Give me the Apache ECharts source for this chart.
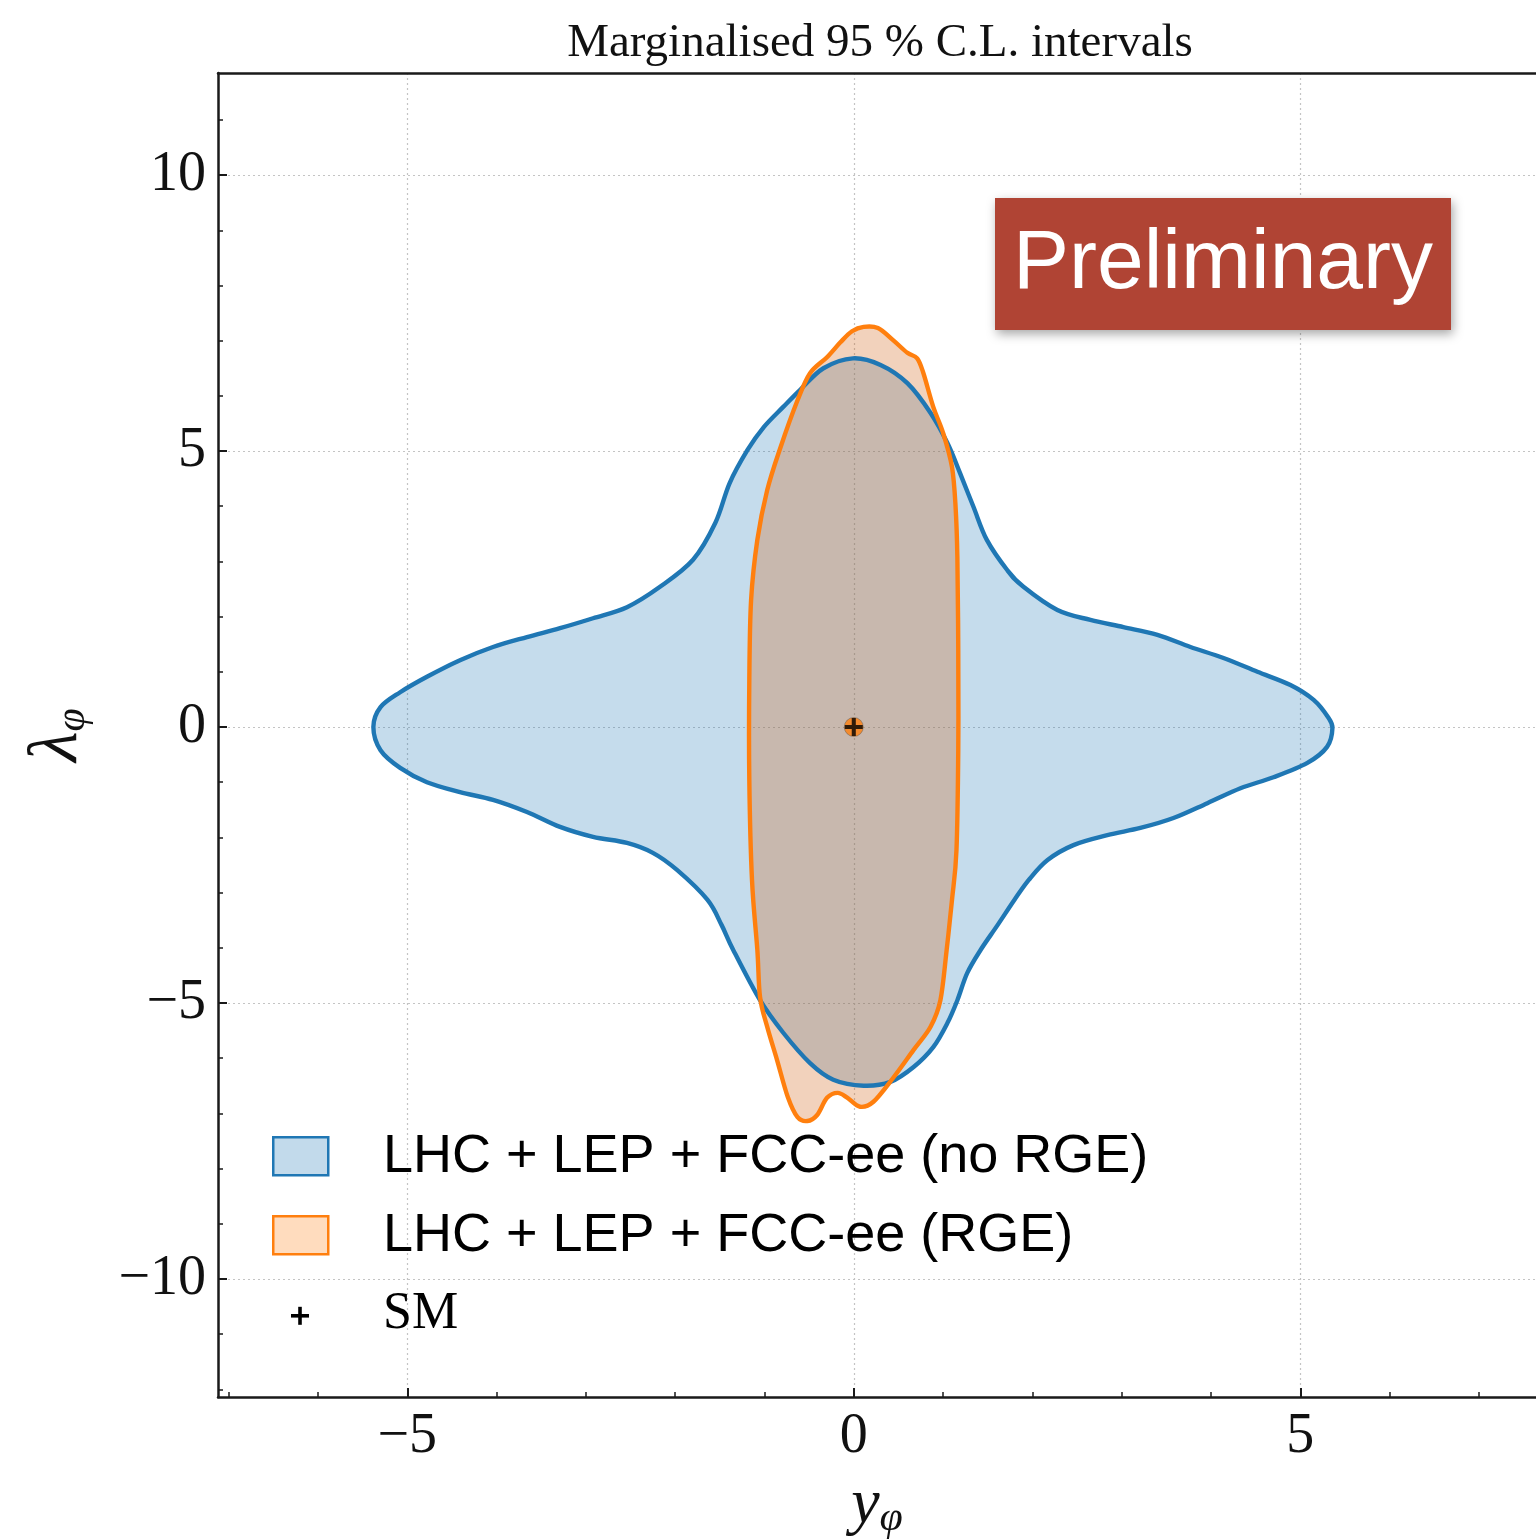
<!DOCTYPE html>
<html><head><meta charset="utf-8">
<script src="https://cdn.jsdelivr.net/npm/echarts@6/dist/echarts.min.js"></script>
<style>html,body{margin:0;padding:0;background:#fff}#c{width:1536px;height:1540px}</style>
</head><body><div id="c"></div>
<script>
// ---- data ----
const titleText = 'Marginalised 95 % C.L. intervals';
const seriesNames = ['LHC + LEP + FCC-ee (no RGE)', 'LHC + LEP + FCC-ee (RGE)', 'SM'];

// 95% contour, no RGE (y_phi, lambda_phi)
const noRgeX = [-5.38,-5.30,-5.08,-4.78,-4.41,-4.04,-3.66,-3.29,-2.92,-2.54,-2.17,-1.80,-1.55,-1.39,-1.19,-1.01,-0.79,-0.60,-0.34,-0.01,
  0.30,0.60,0.86,1.05,1.19,1.34,1.49,1.72,1.90,2.28,2.65,3.02,3.40,3.77,4.14,4.52,4.89,5.15,5.31,5.36,
  5.30,5.08,4.70,4.33,3.96,3.58,3.21,2.84,2.46,2.17,1.96,1.80,1.61,1.42,1.27,1.16,1.05,0.89,0.67,0.41,
  0.11,-0.23,-0.49,-0.79,-1.05,-1.35,-1.48,-1.64,-1.98,-2.25,-2.54,-2.92,-3.29,-3.66,-4.04,-4.41,-4.78,-5.08,-5.30];
const noRgeY = [0.00,0.36,0.63,0.91,1.21,1.45,1.63,1.79,1.97,2.17,2.54,3.03,3.70,4.42,5.02,5.43,5.80,6.11,6.50,6.68,
  6.56,6.23,5.69,5.14,4.60,3.99,3.39,2.84,2.54,2.12,1.94,1.81,1.67,1.45,1.25,1.00,0.76,0.49,0.18,-0.02,
  -0.36,-0.65,-0.91,-1.11,-1.38,-1.65,-1.83,-1.96,-2.14,-2.41,-2.77,-3.13,-3.59,-4.04,-4.46,-4.95,-5.36,-5.80,-6.16,-6.43,
  -6.50,-6.39,-6.09,-5.54,-4.95,-4.04,-3.59,-3.13,-2.59,-2.28,-2.10,-1.99,-1.81,-1.54,-1.32,-1.18,-1.00,-0.74,-0.42];

// 95% contour, RGE
const rgeX = [0.11,0.27,0.44,0.60,0.71,0.78,0.89,1.00,1.10,1.14,1.16,1.17,1.17,1.15,1.10,1.04,0.97,0.86,0.67,0.44,
  0.22,0.07,-0.07,-0.18,-0.30,-0.41,-0.52,-0.63,-0.74,-0.86,-0.97,-1.05,-1.08,-1.14,-1.17,-1.17,-1.15,-1.08,-0.97,-0.82,
  -0.63,-0.49,-0.30,-0.15,-0.02];
const rgeY = [7.25,7.23,7.01,6.78,6.68,6.41,5.80,5.33,4.71,3.99,3.08,1.39,-0.42,-2.23,-3.13,-4.04,-4.95,-5.43,-5.85,-6.36,
  -6.79,-6.88,-6.72,-6.63,-6.72,-7.03,-7.14,-7.07,-6.70,-6.03,-5.43,-4.89,-4.04,-2.77,-0.96,0.85,2.30,3.39,4.29,5.07,
  5.92,6.41,6.70,6.97,7.17];

const smPoint = [0, 0];

// axes
const xRange = [-7.12, 7.64];
const yRange = [-12.14, 11.85];
const xMajorTicks = [-5, 0, 5];
const yMajorTicks = [-10, -5, 0, 5, 10];
const xMinorTicks = [-7,-6,-5,-4,-3,-2,-1,0,1,2,3,4,5,6,7];
const yMinorTicks = [-12,-11,-10,-9,-8,-7,-6,-5,-4,-3,-2,-1,0,1,2,3,4,5,6,7,8,9,10,11];

// ---- styles ----
const BLUE = '#1f77b4', ORANGE = '#ff7f0e';
const BLUE_FILL = 'rgba(31,119,180,0.26)';
const ORANGE_FILL = 'rgba(210,95,15,0.28)';
const SERIF = '"Liberation Serif","DejaVu Serif",serif';
const SANS = '"Liberation Sans",Arial,sans-serif';
const AX = '#1a1a1a';

const fmt = v => v < 0 ? '\u2212' + Math.abs(v) : String(v);

// closed Catmull-Rom spline through pixel points -> SVG path
function closedSpline(pts) {
  const n = pts.length;
  let d = 'M' + pts[0][0].toFixed(2) + ',' + pts[0][1].toFixed(2);
  for (let i = 0; i < n; i++) {
    const p0 = pts[(i - 1 + n) % n], p1 = pts[i], p2 = pts[(i + 1) % n], p3 = pts[(i + 2) % n];
    const c1x = p1[0] + (p2[0] - p0[0]) / 6, c1y = p1[1] + (p2[1] - p0[1]) / 6;
    const c2x = p2[0] - (p3[0] - p1[0]) / 6, c2y = p2[1] - (p3[1] - p1[1]) / 6;
    d += 'C' + c1x.toFixed(2) + ',' + c1y.toFixed(2) + ' ' + c2x.toFixed(2) + ',' + c2y.toFixed(2) + ' ' + p2[0].toFixed(2) + ',' + p2[1].toFixed(2);
  }
  return d + 'Z';
}

function contour(name, xs, ys, stroke, fill, zFill, zLine) {
  return {
    type: 'custom', name, xAxisIndex: 0, yAxisIndex: 0, z: 2, clip: true,
    data: xs.map((x, i) => [x, ys[i]]),
    renderItem(params, api) {
      if (params.dataIndex !== 0) return null;
      const pts = xs.map((x, i) => api.coord([x, ys[i]]));
      const d = closedSpline(pts);
      return { type: 'group', children: [
        { type: 'path', z2: zFill, shape: { pathData: d }, style: { fill: fill, stroke: null } },
        { type: 'path', z2: zLine, shape: { pathData: d }, style: { fill: null, stroke: stroke, lineWidth: 4.4, lineJoin: 'round' } }
      ]};
    }
  };
}

const chart = echarts.init(document.getElementById('c'), null, { renderer: 'canvas' });
const axisLine = { show: true, onZero: false, lineStyle: { color: AX, width: 2.5 } };
const noLine = { show: false, onZero: false };
const plusPath = 'path://M-1.8,-8 L1.8,-8 L1.8,-1.8 L8,-1.8 L8,1.8 L1.8,1.8 L1.8,8 L-1.8,8 L-1.8,1.8 L-8,1.8 L-8,-1.8 L-1.8,-1.8 Z';

chart.setOption({
  animation: false,
  backgroundColor: '#fff',
  title: { text: titleText, left: 880, top: 20, textAlign: 'center', padding: 0,
    textStyle: { fontFamily: SERIF, fontSize: 47, fontWeight: 'normal', color: '#111' } },
  grid: { left: 218, top: 73, right: 0, bottom: 143, containLabel: false, outerBoundsMode: 'none' },
  xAxis: [
    { type: 'value', min: xRange[0], max: xRange[1], position: 'bottom',
      axisLine, axisTick: { show: true, inside: true, length: 9, customValues: xMajorTicks, lineStyle: { color: AX, width: 2 } },
      axisLabel: { customValues: xMajorTicks, formatter: fmt, fontFamily: SERIF, fontSize: 56, color: '#111', margin: 12 },
      splitLine: { show: true, lineStyle: { color: '#c4c4c4', width: 1.2, type: [2, 3] } },
      name: '{i|y}{s|φ}', nameLocation: 'middle', nameGap: 70,
      nameTextStyle: { rich: {
        i: { fontFamily: SERIF, fontStyle: 'italic', fontSize: 64, lineHeight: 70, color: '#111' },
        s: { fontFamily: SERIF, fontStyle: 'italic', fontSize: 42, lineHeight: 70, padding: [28, 0, 0, 0], color: '#111' } } } },
    { type: 'value', min: xRange[0], max: xRange[1], position: 'bottom',
      axisLine: noLine, axisTick: { show: true, inside: true, length: 5, customValues: xMinorTicks, lineStyle: { color: AX, width: 1.5 } },
      axisLabel: { show: false }, splitLine: { show: false } },
    { type: 'value', min: xRange[0], max: xRange[1], position: 'top',
      axisLine, axisTick: { show: false }, axisLabel: { show: false }, splitLine: { show: false } }
  ],
  yAxis: [
    { type: 'value', min: yRange[0], max: yRange[1], position: 'left',
      axisLine, axisTick: { show: true, inside: true, length: 9, customValues: yMajorTicks, lineStyle: { color: AX, width: 2 } },
      axisLabel: { customValues: yMajorTicks, formatter: fmt, fontFamily: SERIF, fontSize: 56, color: '#111', margin: 12 },
      splitLine: { show: true, lineStyle: { color: '#c4c4c4', width: 1.2, type: [2, 3] } },
      name: '{i|λ}{s|φ}', nameLocation: 'middle', nameGap: 122, nameRotate: 90,
      nameTextStyle: { rich: {
        i: { fontFamily: SERIF, fontStyle: 'italic', fontSize: 70, lineHeight: 76, color: '#111' },
        s: { fontFamily: SERIF, fontStyle: 'italic', fontSize: 42, lineHeight: 76, padding: [30, 0, 0, 0], color: '#111' } } } },
    { type: 'value', min: yRange[0], max: yRange[1], position: 'left',
      axisLine: noLine, axisTick: { show: true, inside: true, length: 5, customValues: yMinorTicks, lineStyle: { color: AX, width: 1.5 } },
      axisLabel: { show: false }, splitLine: { show: false } }
  ],
  series: [
    contour(seriesNames[0], noRgeX, noRgeY, BLUE, BLUE_FILL, 1, 3),
    contour(seriesNames[1], rgeX, rgeY, ORANGE, ORANGE_FILL, 2, 4),
    { type: 'scatter', name: 'best', z: 5, data: [smPoint], symbol: 'circle', symbolSize: 19,
      itemStyle: { color: ORANGE, borderColor: 'rgba(90,90,90,0.6)', borderWidth: 1 } },
    { type: 'scatter', name: seriesNames[2], z: 6, data: [smPoint], symbol: plusPath, symbolSize: 18,
      itemStyle: { color: '#000' } }
  ],
  graphic: [
    // Preliminary badge
    { type: 'rect', left: 995, top: 198, shape: { width: 456, height: 132 }, z: 50,
      style: { fill: '#b04434', shadowBlur: 10, shadowColor: 'rgba(0,0,0,0.35)', shadowOffsetX: 2, shadowOffsetY: 4 } },
    { type: 'text', x: 1223, y: 265, z: 51,
      style: { text: 'Preliminary', fill: '#fff', fontFamily: SANS, fontSize: 84, fontWeight: 'normal', align: 'center', verticalAlign: 'middle' } },
    // legend
    { type: 'rect', left: 272, top: 1136, z: 50, shape: { width: 55, height: 38 },
      style: { fill: 'rgba(31,119,180,0.27)', stroke: BLUE, lineWidth: 2.5 } },
    { type: 'text', x: 383, y: 1157, z: 50,
      style: { text: seriesNames[0], fill: '#000', fontFamily: SANS, fontSize: 54, align: 'left', verticalAlign: 'middle' } },
    { type: 'rect', left: 272, top: 1215, z: 50, shape: { width: 55, height: 38 },
      style: { fill: 'rgba(255,127,14,0.27)', stroke: ORANGE, lineWidth: 2.5 } },
    { type: 'text', x: 383, y: 1236, z: 50,
      style: { text: seriesNames[1], fill: '#000', fontFamily: SANS, fontSize: 54, align: 'left', verticalAlign: 'middle' } },
    { type: 'rect', x: 291, y: 1314, z: 50, shape: { width: 18, height: 3.6 }, style: { fill: '#000' } },
    { type: 'rect', x: 298.2, y: 1306.8, z: 50, shape: { width: 3.6, height: 18 }, style: { fill: '#000' } },
    { type: 'text', x: 383, y: 1314, z: 50,
      style: { text: seriesNames[2], fill: '#000', fontFamily: SERIF, fontSize: 52, align: 'left', verticalAlign: 'middle' } }
  ]
});
</script></body></html>
